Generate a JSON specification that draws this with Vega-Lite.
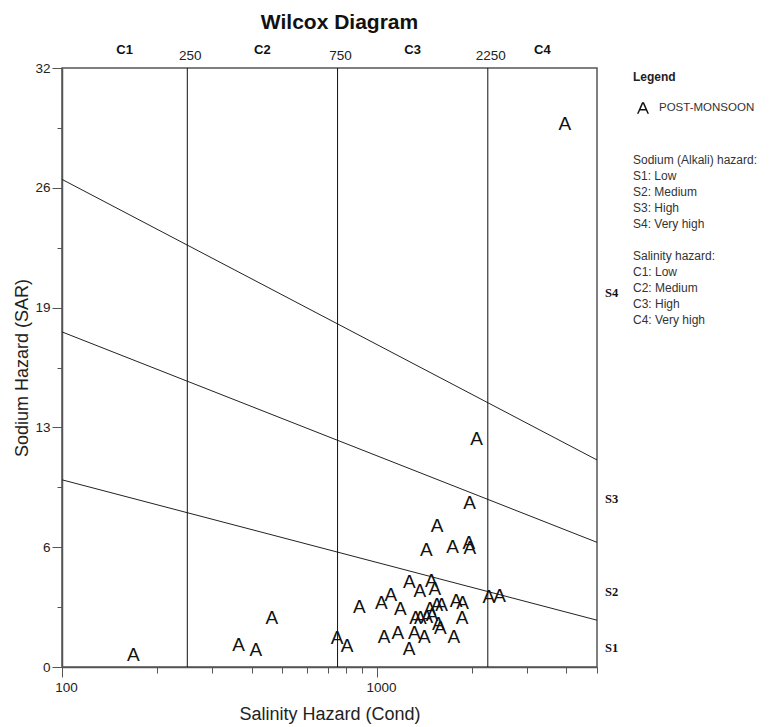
{
  "$schema": "https://vega.github.io/schema/vega-lite/v6.json",
  "width": 535,
  "height": 599,
  "autosize": {"type": "none"},
  "padding": {"left": 62, "top": 68, "right": 185, "bottom": 60},
  "background": "white",
  "title": {"text": "Wilcox Diagram", "font": "Liberation Sans", "fontSize": 21, "fontWeight": "bold", "color": "#111", "anchor": "middle", "dx": 10, "offset": 11},
  "config": {
    "view": {"stroke": "#555", "strokeWidth": 1.5},
    "axis": {"grid": false, "domainColor": "#555", "domainWidth": 1.5, "tickColor": "#555", "tickWidth": 1, "labelFont": "Liberation Sans", "labelFontSize": 13.5, "labelColor": "#222", "titleFont": "Liberation Sans", "titleFontSize": 18, "titleFontWeight": "normal", "titleColor": "#222"},
    "legend": {"padding": 0, "labelFont": "Liberation Sans", "labelFontSize": 12, "labelColor": "#333", "titleFont": "Liberation Sans", "titleFontSize": 12, "titleColor": "#333", "titleFontWeight": "normal"}
  },
  "layer": [
    {
      "data": {"values": [
        {"ec": 100, "sar": 10, "g": "a"}, {"ec": 5000, "sar": 2.5, "g": "a"},
        {"ec": 100, "sar": 17.9, "g": "b"}, {"ec": 5000, "sar": 6.66, "g": "b"},
        {"ec": 100, "sar": 26.05, "g": "c"}, {"ec": 5000, "sar": 11.06, "g": "c"}
      ]},
      "mark": {"type": "line", "color": "#222", "strokeWidth": 1},
      "encoding": {
        "x": {"field": "ec", "type": "quantitative", "scale": {"type": "log", "domain": [100, 5000], "nice": false},
          "axis": {"orient": "bottom", "title": "Salinity Hazard (Cond)", "values": [100, 200, 300, 400, 500, 600, 700, 800, 900, 1000, 2000, 3000, 4000, 5000],
            "labelExpr": "(datum.value == 100 || datum.value == 1000) ? format(datum.value, 'd') : ''",
            "tickSize": {"condition": {"test": "datum.value == 100 || datum.value == 1000", "value": 10}, "value": 6},
            "labelFlush": false, "labelOffset": 4, "labelPadding": 3, "titlePadding": 12}},
        "y": {"field": "sar", "type": "quantitative", "scale": {"domain": [0, 32], "nice": false},
          "axis": {"orient": "left", "title": "Sodium Hazard (SAR)", "values": [0, 3.2, 6.4, 9.6, 12.8, 16, 19.2, 22.4, 25.6, 28.8, 32],
            "labelExpr": "indexof([0, 6.4, 12.8, 19.2, 25.6, 32], datum.value) >= 0 ? format(datum.value, '.0f') : ''",
            "tickSize": {"condition": {"test": "indexof([0, 6.4, 12.8, 19.2, 25.6, 32], datum.value) >= 0", "value": 10}, "value": 5},
            "labelFlush": false, "labelPadding": 2, "titlePadding": 3}},
        "detail": {"field": "g", "type": "nominal"}
      }
    },
    {
      "data": {"values": [{"ec": 250}, {"ec": 750}, {"ec": 2250}]},
      "layer": [
        {
          "mark": {"type": "rule", "color": "#111", "strokeWidth": 1},
          "encoding": {"x": {"field": "ec", "type": "quantitative", "axis": null}}
        },
        {
          "mark": {"type": "text", "font": "Liberation Sans", "fontSize": 13.5, "color": "#222", "align": "center", "baseline": "alphabetic", "dy": -8, "dx": 3},
          "encoding": {
            "x": {"field": "ec", "type": "quantitative", "axis": null},
            "y": {"datum": 32, "axis": null},
            "text": {"field": "ec", "type": "quantitative", "format": "d"}
          }
        }
      ]
    },
    {
      "data": {"values": [
        {"ec": 168.5, "sar": 0.64, "season": "POST-MONSOON"},
        {"ec": 364, "sar": 1.18, "season": "POST-MONSOON"},
        {"ec": 413, "sar": 0.91, "season": "POST-MONSOON"},
        {"ec": 464, "sar": 2.60, "season": "POST-MONSOON"},
        {"ec": 747, "sar": 1.53, "season": "POST-MONSOON"},
        {"ec": 804, "sar": 1.12, "season": "POST-MONSOON"},
        {"ec": 880, "sar": 3.21, "season": "POST-MONSOON"},
        {"ec": 1033, "sar": 3.42, "season": "POST-MONSOON"},
        {"ec": 1108, "sar": 3.82, "season": "POST-MONSOON"},
        {"ec": 1188, "sar": 3.08, "season": "POST-MONSOON"},
        {"ec": 1267, "sar": 4.56, "season": "POST-MONSOON"},
        {"ec": 1368, "sar": 4.08, "season": "POST-MONSOON"},
        {"ec": 1488, "sar": 4.60, "season": "POST-MONSOON"},
        {"ec": 1529, "sar": 4.18, "season": "POST-MONSOON"},
        {"ec": 1326, "sar": 2.62, "season": "POST-MONSOON"},
        {"ec": 1375, "sar": 2.62, "season": "POST-MONSOON"},
        {"ec": 1442, "sar": 2.69, "season": "POST-MONSOON"},
        {"ec": 1496, "sar": 2.78, "season": "POST-MONSOON"},
        {"ec": 1472, "sar": 3.08, "season": "POST-MONSOON"},
        {"ec": 1549, "sar": 3.31, "season": "POST-MONSOON"},
        {"ec": 1604, "sar": 3.31, "season": "POST-MONSOON"},
        {"ec": 1784, "sar": 3.54, "season": "POST-MONSOON"},
        {"ec": 1873, "sar": 3.40, "season": "POST-MONSOON"},
        {"ec": 1866, "sar": 2.60, "season": "POST-MONSOON"},
        {"ec": 1566, "sar": 2.30, "season": "POST-MONSOON"},
        {"ec": 1589, "sar": 2.07, "season": "POST-MONSOON"},
        {"ec": 1054, "sar": 1.59, "season": "POST-MONSOON"},
        {"ec": 1165, "sar": 1.84, "season": "POST-MONSOON"},
        {"ec": 1316, "sar": 1.84, "season": "POST-MONSOON"},
        {"ec": 1416, "sar": 1.62, "season": "POST-MONSOON"},
        {"ec": 1266, "sar": 0.96, "season": "POST-MONSOON"},
        {"ec": 1755, "sar": 1.58, "season": "POST-MONSOON"},
        {"ec": 2268, "sar": 3.76, "season": "POST-MONSOON"},
        {"ec": 2452, "sar": 3.79, "season": "POST-MONSOON"},
        {"ec": 2072, "sar": 12.16, "season": "POST-MONSOON"},
        {"ec": 1969, "sar": 8.76, "season": "POST-MONSOON"},
        {"ec": 1554, "sar": 7.52, "season": "POST-MONSOON"},
        {"ec": 1435, "sar": 6.23, "season": "POST-MONSOON"},
        {"ec": 1738, "sar": 6.43, "season": "POST-MONSOON"},
        {"ec": 1959, "sar": 6.65, "season": "POST-MONSOON"},
        {"ec": 1973, "sar": 6.38, "season": "POST-MONSOON"},
        {"ec": 3955, "sar": 29.03, "season": "POST-MONSOON"}
      ]},
      "mark": {"type": "text", "text": "A", "font": "Liberation Sans", "fontSize": 19, "baseline": "middle", "align": "center"},
      "encoding": {
        "x": {"field": "ec", "type": "quantitative", "axis": null},
        "y": {"field": "sar", "type": "quantitative", "axis": null},
        "color": {"field": "season", "type": "nominal", "scale": {"domain": ["POST-MONSOON"], "range": ["#111"]},
          "legend": {"title": "Legend", "orient": "none", "legendX": 571, "legendY": 4, "titleFontWeight": "bold", "titleColor": "#222",
            "symbolType": "M-0.6,0.58L-0.1,-0.58L0.1,-0.58L0.6,0.58L0.44,0.58L0.3,0.25L-0.3,0.25L-0.44,0.58ZM-0.23,0.1L0.23,0.1L0,-0.42Z", "symbolSize": 400, "labelFontSize": 11.5, "labelOffset": 6, "titlePadding": 14, "symbolStrokeWidth": 0}}
      }
    },
    {
      "data": {"values": [
        {"ec": 5000, "sar": 1, "lab": "S1", "sdesc": "S1: Low"},
        {"ec": 5000, "sar": 4, "lab": "S2", "sdesc": "S2: Medium"},
        {"ec": 5000, "sar": 9, "lab": "S3", "sdesc": "S3: High"},
        {"ec": 5000, "sar": 20, "lab": "S4", "sdesc": "S4: Very high"}
      ]},
      "mark": {"type": "text", "font": "Liberation Serif", "fontWeight": "bold", "fontSize": 12.5, "align": "left", "baseline": "middle", "dx": 8},
      "encoding": {
        "x": {"field": "ec", "type": "quantitative", "axis": null},
        "y": {"field": "sar", "type": "quantitative", "axis": null},
        "text": {"field": "lab"},
        "color": {"field": "sdesc", "type": "nominal", "scale": {"domain": ["S1: Low", "S2: Medium", "S3: High", "S4: Very high"], "range": ["#111", "#111", "#111", "#111"]},
          "legend": {"title": "Sodium (Alkali) hazard:", "orient": "none", "legendX": 571, "legendY": 87, "symbolSize": 0, "symbolOpacity": 0, "symbolStrokeWidth": 0, "labelOffset": -12, "rowPadding": 4, "titlePadding": 3}}
      }
    },
    {
      "data": {"values": [
        {"ec": 158, "lab": "C1", "cdesc": "C1: Low"},
        {"ec": 433, "lab": "C2", "cdesc": "C2: Medium"},
        {"ec": 1299, "lab": "C3", "cdesc": "C3: High"},
        {"ec": 3354, "lab": "C4", "cdesc": "C4: Very high"}
      ]},
      "mark": {"type": "text", "font": "Liberation Sans", "fontWeight": "bold", "fontSize": 13, "align": "center", "baseline": "alphabetic", "dy": -14},
      "encoding": {
        "x": {"field": "ec", "type": "quantitative", "axis": null},
        "y": {"datum": 32, "axis": null},
        "text": {"field": "lab"},
        "color": {"field": "cdesc", "type": "nominal", "scale": {"domain": ["C1: Low", "C2: Medium", "C3: High", "C4: Very high"], "range": ["#111", "#111", "#111", "#111"]},
          "legend": {"title": "Salinity hazard:", "orient": "none", "legendX": 571, "legendY": 183, "symbolSize": 0, "symbolOpacity": 0, "symbolStrokeWidth": 0, "labelOffset": -12, "rowPadding": 4, "titlePadding": 3}}
      }
    }
  ],
  "resolve": {"scale": {"color": "independent"}, "axis": {"x": "independent", "y": "independent"}, "legend": {"color": "independent"}}
}
